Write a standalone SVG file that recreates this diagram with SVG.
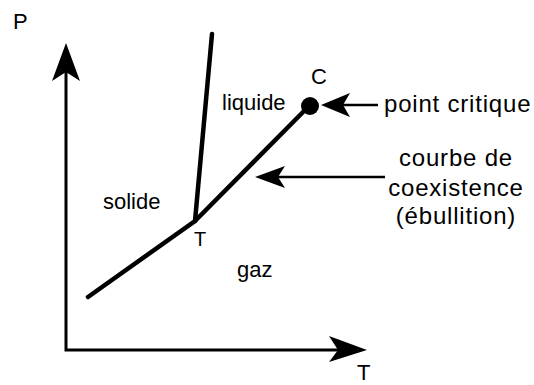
<svg xmlns="http://www.w3.org/2000/svg" width="534" height="385" viewBox="0 0 534 385">
<style>
text{font-family:"Liberation Sans",Arial,sans-serif;font-size:22px;fill:#000}
.big text{font-size:24px;letter-spacing:0.8px}
.ax{stroke:#000;stroke-width:3;fill:none}
.cv{stroke:#000;stroke-width:4.5;fill:none;stroke-linecap:round}
.ar{stroke:#000;stroke-width:2.5;fill:none}
</style>
<rect width="534" height="385" fill="#fff"/>
<g id="axes">
<path class="ax" d="M66,350 V70 M64.5,350 H345"/>
<path d="M66,43 L80,81 L66,72 L52,81 Z" fill="#000"/>
<path d="M367,350 L329,336 L338,350 L329,362 Z" fill="#000"/>
<text x="13" y="29">P</text>
<text x="357" y="380">T</text>
</g>
<g id="curves">
<path class="cv" d="M88,297 L195,221 L212,34"/>
<path class="cv" d="M195,221 L309,106"/>
</g>
<g id="critical">
<circle cx="310" cy="106" r="9" fill="#000"/>
<text x="311" y="84">C</text>
</g>
<g id="regions">
<text x="222" y="110">liquide</text>
<text x="103" y="209">solide</text>
<text x="237" y="277">gaz</text>
<text x="194" y="246" style="font-size:20px">T</text>
</g>
<g id="connectors">
<path class="ar" d="M378,105 H340"/>
<path d="M321,105 L350,93 L343,105 L350,117 Z" fill="#000"/>
<path class="ar" d="M385,177 H275"/>
<path d="M255,177 L285,166 L278,177 L285,188 Z" fill="#000"/>
</g>
<g id="labels" class="big">
<text x="384" y="112">point critique</text>
<text x="456" y="166" text-anchor="middle">courbe de</text>
<text x="456" y="196" text-anchor="middle">coexistence</text>
<text x="456" y="224" text-anchor="middle">(ébullition)</text>
</g>
</svg>
